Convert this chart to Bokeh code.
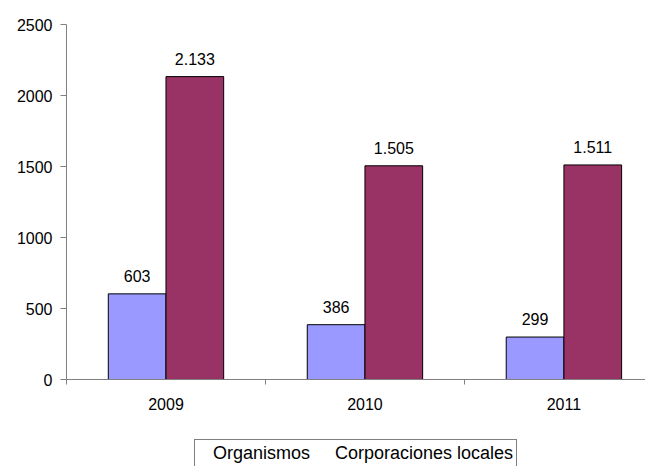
from bokeh.plotting import figure
from bokeh.layouts import column
from bokeh.models import (ColumnDataSource, Range1d, FixedTicker, Legend, LegendItem,
                          CDSView, IndexFilter)
from bokeh.transform import dodge
from bokeh.core.properties import value
from bokeh.embed import file_html
from bokeh.resources import INLINE

years = ["2009", "2010", "2011"]
organismos = [603, 386, 299]
corporaciones = [2133, 1505, 1511]
org_labels = ["603", "386", "299"]
corp_labels = ["2.133", "1.505", "1.511"]
series_names = ["Organismos", "Corporaciones locales"]
series_colors = ["#9999FF", "#993366"]

centers = [i + 0.5 for i in range(len(years))]
src = ColumnDataSource(dict(x=centers, org=organismos, corp=corporaciones,
                            org_lab=org_labels, corp_lab=corp_labels))

FONT = "Liberation Sans"

p = figure(frame_width=579, frame_height=355,
           output_backend="svg", toolbar_location=None,
           x_range=Range1d(0, 2.91), y_range=Range1d(0, 2500),
           min_border_left=66, min_border_top=24, min_border_bottom=0, min_border_right=0)
p.outline_line_color = None
p.xgrid.visible = False
p.ygrid.visible = False

bw = 0.29
p.vbar(x=dodge("x", -bw / 2, range=p.x_range), top="org", width=bw, source=src,
       fill_color=series_colors[0], line_color="black", line_width=1)
p.vbar(x=dodge("x", bw / 2, range=p.x_range), top="corp", width=bw, source=src,
       fill_color=series_colors[1], line_color="black", line_width=1)

p.text(x=dodge("x", -bw / 2, range=p.x_range), y="org", text="org_lab", source=src,
       text_align="center", text_baseline="bottom", y_offset=-12,
       text_font=value(FONT), text_font_size="16px", text_color="black")
p.text(x=dodge("x", bw / 2, range=p.x_range), y="corp", text="corp_lab", source=src,
       text_align="center", text_baseline="bottom", y_offset=-12,
       text_font=value(FONT), text_font_size="16px", text_color="black")

# x axis
p.xaxis.ticker = FixedTicker(ticks=centers, minor_ticks=[0, 1, 2, 3])
p.xaxis.major_label_overrides = {c: y for c, y in zip(centers, years)}
p.xaxis.major_tick_line_color = None
p.xaxis.minor_tick_out = 5
p.xaxis.minor_tick_in = 0
p.xaxis.minor_tick_line_color = "#808080"
p.xaxis.axis_line_color = "#808080"
p.xaxis.major_label_standoff = 12
p.xaxis.major_label_text_font = FONT
p.xaxis.major_label_text_font_size = "16px"
p.xaxis.major_label_text_color = "black"

# y axis
p.yaxis.ticker = FixedTicker(ticks=[0, 500, 1000, 1500, 2000, 2500])
p.yaxis.minor_tick_line_color = None
p.yaxis.major_tick_out = 6
p.yaxis.major_tick_in = 0
p.yaxis.major_tick_line_color = "#808080"
p.yaxis.axis_line_color = "#808080"
p.yaxis.major_label_standoff = 8
p.yaxis.major_label_text_font = FONT
p.yaxis.major_label_text_font_size = "16px"
p.yaxis.major_label_text_color = "black"

# legend strip: its renderers draw no marks (empty view), only the legend shows
p2 = figure(width=645, height=57, output_backend="svg", toolbar_location=None,
            x_range=Range1d(3, 4), y_range=Range1d(0, 2500), min_border=0)
p2.outline_line_color = None
p2.axis.visible = False
p2.grid.visible = False
hide = CDSView(filter=IndexFilter(indices=[]))
lr1 = p2.vbar(x="x", top="org", width=bw, source=src, view=hide,
              fill_color=series_colors[0], line_color="black", line_width=1)
lr2 = p2.vbar(x="x", top="corp", width=bw, source=src, view=hide,
              fill_color=series_colors[1], line_color="black", line_width=1)

legend = Legend(items=[LegendItem(label=series_names[0], renderers=[lr1]),
                       LegendItem(label=series_names[1], renderers=[lr2])],
                orientation="horizontal", location=(128, 1),
                border_line_color="black", border_line_width=1,
                label_text_font=FONT, label_text_font_size="18px",
                label_text_color="black",
                glyph_width=11, glyph_height=11, label_standoff=4, spacing=10,
                padding=3, margin=0, label_height=16)
p2.add_layout(legend, "center")

layout = column(p, p2, spacing=0)
open("out.html", "w").write(file_html(layout, INLINE))
